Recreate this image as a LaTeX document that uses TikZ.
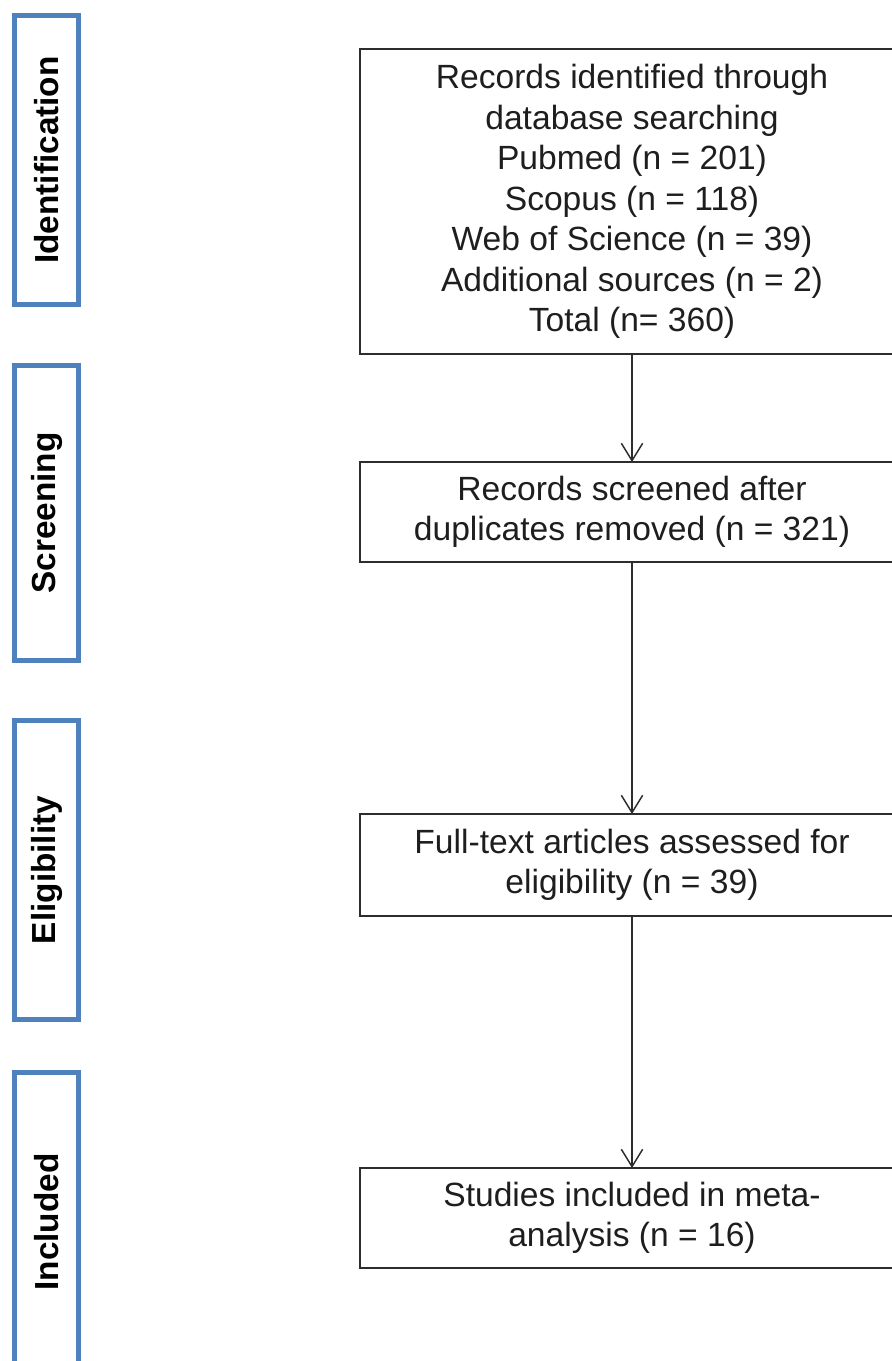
\documentclass[tikz,border=0pt]{standalone}
\usepackage{fontspec}
\setmainfont{Liberation Sans}
\usetikzlibrary{arrows.meta}
\definecolor{phaseblue}{RGB}{79,129,189}
\definecolor{boxgray}{RGB}{45,45,45}
\definecolor{inkgray}{RGB}{30,30,30}

\begin{document}
\begin{tikzpicture}[x=0.75pt,y=-0.75pt,
        phase/.style={draw=phaseblue,line width=3.75pt,rotate=90,minimum height=48pt,
            inner sep=0pt,outer sep=0pt,font=\fontsize{25pt}{29pt}\selectfont\bfseries,text=black},
        stepbox/.style={draw=boxgray,line width=1.5pt,minimum width=408pt,inner sep=0pt,
            outer sep=0pt,align=center,text=inkgray,font=\fontsize{25.2pt}{30.4pt}\selectfont},
        flow/.style={draw=boxgray,line width=1.1pt,-{Straight Barb[length=13pt,width=16pt,line width=1.1pt]}}]
            \useasboundingbox (0,0) rectangle (892,1361);
            \clip (0,0) rectangle (892,1361);
            % phase labels on the left
            \node[phase,minimum width=216.75pt] (idlab) at (46.5,160) {Identification};
            \node[phase,minimum width=221pt] (scrlab) at (46.5,513) {Screening};
            \node[phase,minimum width=224pt] (eliglab) at (46.5,870) {Eligibility};
            \node[phase,minimum width=225pt] (incllab) at (46.5,1222) {Included};
            % flow boxes
            \node[stepbox,minimum height=228.75pt] (ident) at (632,201.5) {Records identified through\\
                database searching\\Pubmed (n = 201)\\Scopus (n = 118)\\Web of Science (n = 39)\\
                Additional sources (n = 2)\\Total (n= 360)};
            \node[stepbox,minimum height=75pt] (screen) at (632,512) {Records screened after\\
                duplicates removed (n = 321)};
            \node[stepbox,minimum height=76.5pt] (elig) at (632,865) {Full-text articles assessed for\\
                eligibility (n = 39)};
            \node[stepbox,minimum height=75pt] (incl) at (632,1218) {Studies included in meta-\\
                analysis (n = 16)};
            \foreach \a/\b in {ident/screen,screen/elig,elig/incl}{
                \draw[flow] (\a) -- (\b);
            }
\end{tikzpicture}
\end{document}
